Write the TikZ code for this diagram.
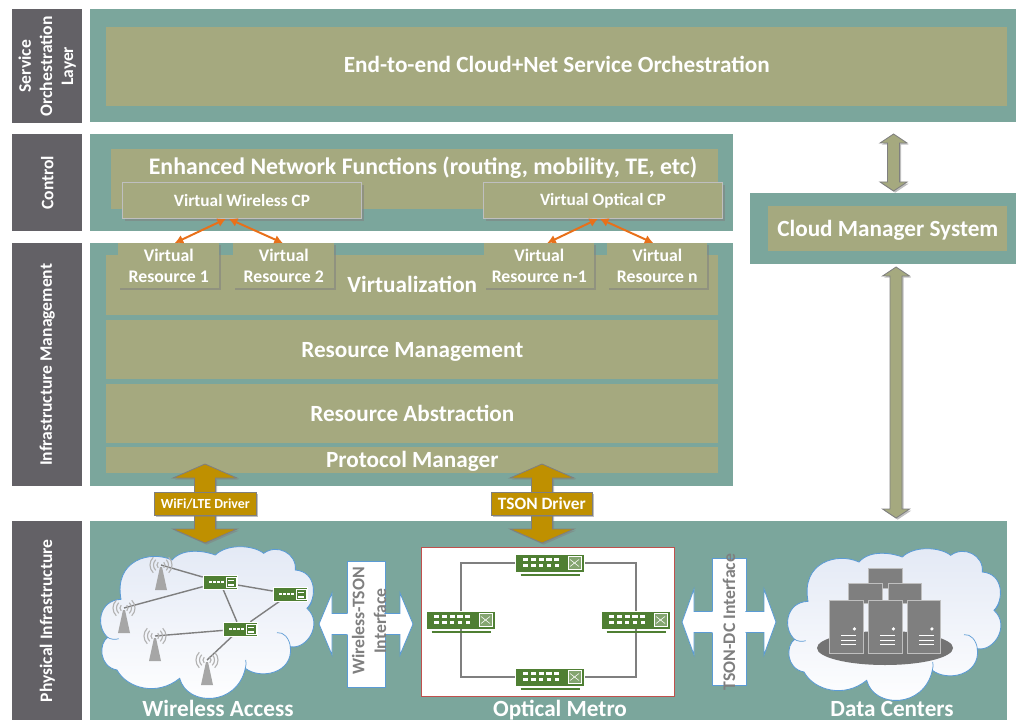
\documentclass[tikz,border=0pt]{standalone}
\usepackage{fontspec}
\setmainfont{Carlito}
\usepackage{tikz}
\usetikzlibrary{shapes.geometric,shadows,calc,arrows.meta,positioning}
\definecolor{tealband}{HTML}{7BA69C}
\definecolor{oliveband}{HTML}{A5A97F}
\definecolor{darkband}{HTML}{636166}
\definecolor{goldarrow}{HTML}{BF9000}
\definecolor{swgreen}{HTML}{4F7F33}
\definecolor{cloudline}{HTML}{5B9BD5}
\definecolor{cloudtop}{HTML}{E3E9F5}
\definecolor{linegray}{HTML}{7F7F7F}
\definecolor{linkorange}{HTML}{E8701A}
\definecolor{metrored}{HTML}{C0504D}
\newcommand{\pxu}{0.025cm}
\tikzset{
  wh/.style 2 args={minimum width=#1*\pxu, minimum height=#2*\pxu},
  band/.style={rectangle,anchor=north west,inner sep=0pt,text=white,font=\bfseries,align=center},
  side/.style={band,fill=darkband},
  sidetxt/.style={rotate=90,text=white,inner sep=0pt,align=center,font=\bfseries\fontsize{12.5}{15}\selectfont},
  outer/.style={band,fill=tealband},
  inner/.style={band,fill=oliveband,text height=10.4pt,text depth=0pt,font=\bfseries\fontsize{16.5}{18}\selectfont},
  vbox/.style={band,fill=oliveband,drop shadow={shadow xshift=1.5pt,shadow yshift=-1.5pt,opacity=.55},
    font=\bfseries\fontsize{12.6}{15.5}\selectfont},
  vcp/.style={vbox,draw=black!25,line width=.6pt,font=\bfseries\fontsize{12.3}{15}\selectfont},
  vlink/.style={{Latex[length=6pt,width=6.5pt]}-{Latex[length=6pt,width=6.5pt]},draw=linkorange,line width=1.4pt},
  goldarr/.style={fill=goldarrow,draw=linegray,line width=.6pt,
    drop shadow={shadow xshift=1.2pt,shadow yshift=-1.2pt,opacity=.5}},
  drvbox/.style={band,fill=goldarrow,draw=linegray,line width=.5pt,
    drop shadow={shadow xshift=1.5pt,shadow yshift=-1.5pt,opacity=.5}},
  olivearr/.style={goldarr,fill=oliveband},
  whitearr/.style={fill=white,draw=cloudline,line width=.6pt},
  ifbox/.style={band,fill=white,draw=cloudline,line width=.6pt},
  iftext/.style={rotate=90,text=linegray,font=\bfseries\fontsize{12.6}{15.5}\selectfont,align=center,inner sep=0pt},
  title/.style={text=white,inner sep=0pt,text height=10.4pt,text depth=0pt,font=\bfseries\fontsize{16.5}{18}\selectfont},
  swbig/.style={rectangle,inner sep=0pt,fill=swgreen,draw=white,line width=.4pt,wh={69}{18}},
  swsmall/.style={rectangle,inner sep=0pt,fill=swgreen,draw=white,line width=.4pt,wh={34}{14}},
  wire/.style={draw=linegray,line width=1pt},
  ringwire/.style={draw=linegray,line width=1pt},
  srv/.style={band,fill=linegray,draw=black!25,line width=.6pt},
  % total length, half head, half shaft, head length, style; drawn upright
  pics/dblarrow/.style n args={5}{code={
    \pgfmathsetmacro{\la}{#1/2}
    \pgfmathsetmacro{\lb}{#1/2-#4}
    \path[#5] (0,-\la) -- (#2,-\lb) -- (#3,-\lb) -- (#3,\lb) -- (#2,\lb) -- (0,\la)
      -- (-#2,\lb) -- (-#3,\lb) -- (-#3,-\lb) -- (-#2,-\lb) -- cycle;
  }},
  pics/cloudpic/.style={code={
    \begin{scope}[scale=.3333,shift={(-353,-342)}]
    \path[draw=cloudline,line width=.6pt,top color=cloudtop,bottom color=white]
      (52,382) .. controls (15,350) and (25,270) .. (92,268)
      .. controls (70,150) and (180,120) .. (245,150)
      .. controls (280,110) and (350,125) .. (375,135)
      .. controls (410,100) and (490,105) .. (520,130)
      .. controls (560,100) and (620,130) .. (615,180)
      .. controls (680,185) and (680,265) .. (650,295)
      .. controls (700,340) and (650,420) .. (600,410)
      .. controls (610,490) and (510,510) .. (465,475)
      .. controls (440,590) and (290,590) .. (268,505)
      .. controls (200,560) and (110,535) .. (80,480)
      .. controls (25,470) and (25,400) .. (52,382) -- cycle;
    \draw[cloudline,line width=.5pt] (560,368) .. controls (580,365) and (597,385) .. (600,410);
    \draw[cloudline,line width=.5pt] (650,295) .. controls (655,290) and (662,285) .. (665,275);
    \draw[cloudline,line width=.5pt] (52,382) .. controls (60,388) and (75,390) .. (85,386);
    \draw[cloudline,line width=.5pt] (465,475) .. controls (468,465) and (468,458) .. (466,450);
    \end{scope}
  }},
  pics/bigdetail/.style={code={
    \foreach \i in {0,...,4} {
      \fill[white] (-24.5+7.8*\i,-4.7) ++(-2.6,0) rectangle ++(5.2,2.4);
      \fill[white] (-24.5+7.8*\i,.8) ++(-2.2,0) rectangle ++(4.4,2.8);
    }
    \draw[white,fill=swgreen!70!white,line width=.5pt] (18,-6.5) rectangle (31,6.5);
    \draw[white,line width=.4pt] (20,-3.5) -- (29,3.5) (20,3.5) -- (29,-3.5);
    \draw[swgreen,line width=1pt] (-29.5,12) -- (29.5,12);
  }},
  pics/smalldetail/.style={code={
    \foreach \i in {0,...,3} \fill[white] (-11+4*\i,-1) rectangle ++(2.6,2);
    \draw[white,line width=.5pt] (6,-5) rectangle (16,5);
    \draw[white,line width=.5pt] (8,-1.5) -- (14,-1.5);
    \fill[white] (8,2) rectangle (14,4);
  }},
  pics/towerpic/.style={code={
    \fill[black!35] (-1,2) -- (1,2) -- (6,25) -- (-6,25) -- cycle;
    \foreach \r in {4,7.5,11} {
      \draw[black!30,line width=.8pt] (.7*\r,-.7*\r) .. controls (1.1*\r,-.35*\r) and (1.1*\r,.35*\r) .. (.7*\r,.7*\r);
      \draw[black!30,line width=.8pt] (-.7*\r,-.7*\r) .. controls (-1.1*\r,-.35*\r) and (-1.1*\r,.35*\r) .. (-.7*\r,.7*\r);
    }
  }},
  pics/srvdetail/.style={code={
    \fill[white] (0,0) circle (1.8);
    \foreach \k in {7,11.5,16} \draw[white,line width=.8pt] (-13,\k) -- (2,\k);
  }}
}
\begin{document}
\begin{tikzpicture}[x=0.025cm,y=-0.025cm]
  \useasboundingbox (0,0) rectangle (1016,720);
  \clip (0,0) rectangle (1016,720);
  % side labels
  \node (sideSvc) [side,wh={70}{114}] at (12,9) {};
  \node (sideCtl) [side,wh={70}{97}] at (12,134) {};
  \node (sideInf) [side,wh={70}{243}] at (12,243) {};
  \node (sidePhy) [side,wh={70}{199}] at (12,521) {};
  \node (txtSvc) [sidetxt] at (sideSvc) {Service\\Orchestration\\Layer};
  \node (txtCtl) [sidetxt] at (sideCtl) {Control};
  \node (txtInf) [sidetxt] at (sideInf) {Infrastructure Management};
  \node (txtPhy) [sidetxt] at (sidePhy) {Physical Infrastructure};
  % layer bands
  \node (bandSvc) [outer,wh={926}{113}] at (90,9) {};
  \node (bandCtl) [outer,wh={643}{97}] at (90,134) {};
  \node (bandInf) [outer,wh={643}{243}] at (90,243) {};
  \node (bandPhy) [outer,wh={917}{199}] at (90,521) {};
  \node (bandCld) [outer,wh={266}{71}] at (750,193) {};
  \node (orch) [inner,wh={901}{79},text depth=2pt] at (106,27) {End-to-end Cloud+Net Service Orchestration};
  \node (cldMgr) [inner,wh={239}{45}] at (768,206) {Cloud Manager System};
  \node (enh) [inner,wh={607}{60}] at (111,149) {};
  \node (enhTxt) [title,font=\bfseries\fontsize{16.9}{18}\selectfont] at (423,167) {Enhanced Network Functions (routing, mobility, TE, etc)};
  \node (virt) [inner,wh={612}{60}] at (106,255) {Virtualization};
  \node (resMgr) [inner,wh={612}{59}] at (106,320) {Resource Management};
  \node (resAbs) [inner,wh={612}{59}] at (106,384) {Resource Abstraction};
  \node (proto) [inner,wh={612}{26}] at (106,447) {Protocol Manager};
  % virtual boxes
  \node (cpW) [vcp,wh={239}{36}] at (122,182) {Virtual Wireless CP};
  \node (cpO) [vcp,wh={239}{36}] at (483,182) {Virtual Optical CP};
  \node (vr1) [vbox,wh={101}{45}] at (118,243) {Virtual\\Resource 1};
  \node (vr2) [vbox,wh={101}{45}] at (233,243) {Virtual\\Resource 2};
  \node (vr3) [vbox,wh={110}{45}] at (484,243) {Virtual\\Resource n-1};
  \node (vr4) [vbox,wh={100}{45}] at (607,243) {Virtual\\Resource n};
  \draw [vlink] ($(cpW.south)+(-16,0)$) -- ($(vr1.north)+(6,0)$);
  \draw [vlink] ($(cpW.south)+(-13,0)$) -- ($(vr2.north)+(-1,0)$);
  \draw [vlink] ($(cpO.south)+(-5,0)$) -- ($(vr3.north)+(8,0)$);
  \draw [vlink] ($(cpO.south)+(-3,0)$) -- ($(vr4.north)+(-4,0)$);
  % physical layer
  \pic at (208,624) {cloudpic};
  \pic at (895,626) {cloudpic};
  \node (metro) [band,fill=white,draw=metrored,line width=.6pt,wh={253}{149}] at (421,547) {};
  % driver and manager arrows
  \pic at (205,503.5) {dblarrow={79}{32}{10.5}{14}{goldarr}};
  \pic at (542,503.5) {dblarrow={79}{32}{10.5}{14}{goldarr}};
  \node (drvW) [drvbox,wh={102}{23},font=\bfseries\fontsize{9.9}{11}\selectfont] at (154,492) {WiFi/LTE Driver};
  \node (drvT) [drvbox,wh={101}{23},font=\bfseries\fontsize{12.3}{14}\selectfont] at (491,492) {TSON Driver};
  \pic at (893.5,162.5) {dblarrow={57}{13.5}{6}{9}{olivearr}};
  \pic at (896,392.5) {dblarrow={251}{13.5}{6}{9}{olivearr}};
  % interfaces
  \node (ifWb) [ifbox,wh={38}{126}] at (347,561) {};
  \pic [rotate=90] at (366,624) {dblarrow={94}{31}{10.5}{13}{whitearr}};
  \fill [white] (346.4,614) rectangle (385.6,634) (347.6,613) rectangle (384.4,635);
  \node (ifWt) [iftext] at (369,621) {Wireless-TSON\\Interface};
  \node (ifDb) [ifbox,wh={34}{127}] at (712,558) {};
  \pic [rotate=90] at (729,622) {dblarrow={94}{33}{10.5}{12}{whitearr}};
  \fill [white] (711.4,612) rectangle (746.6,632) (712.6,611) rectangle (745.4,633);
  \node (ifDt) [iftext] at (729,622) {TSON-DC Interface};
  % optical ring
  \node (swT) [swbig] at (550,563) {};
  \node (swL) [swbig] at (461,620) {};
  \node (swR) [swbig] at (636,620) {};
  \node (swB) [swbig] at (550,677) {};
  \draw [ringwire] (swT.west) -| (swL.north);
  \draw [ringwire] (swL.south) |- (swB.west);
  \draw [ringwire] (swB.east) -| (swR.south);
  \draw [ringwire] (swR.north) |- (swT.east);
  \foreach \n in {swT,swL,swR,swB} \path (\n) pic {bigdetail};
  % wireless network
  \coordinate (tw1) at (161,565);
  \coordinate (tw2) at (124,608);
  \coordinate (tw3) at (155,636);
  \coordinate (tw4) at (207,660);
  \node (swA) [swsmall] at (220,582) {};
  \node (swC) [swsmall] at (290,594) {};
  \node (swD) [swsmall] at (240,629) {};
  \draw [wire] (tw1) -- (swA);
  \draw [wire] (tw2) -- (swA);
  \draw [wire] (swA) -- (swC);
  \draw [wire] (swA) -- (swD);
  \draw [wire] (swC) -- (swD);
  \draw [wire] (tw3) -- (swD);
  \draw [wire] (tw4) -- (swD);
  \foreach \n in {swA,swC,swD} {
    \node [swsmall] at (\n) {};
    \path (\n) pic {smalldetail};
  }
  \foreach \n in {tw1,tw2,tw3,tw4} \path (\n) pic {towerpic};
  % data center
  \node (dcBase) [ellipse,fill=black!55,inner sep=0pt,wh={136}{34}] at (885,648) {};
  \node (srvTop) [srv,wh={34}{20}] at (868,568) {};
  \node (srvB1) [srv,wh={34}{20}] at (848,583) {};
  \node (srvB2) [srv,wh={33}{20}] at (888,583) {};
  \node (srvF1) [srv,wh={34}{53}] at (829,600) {};
  \node (srvF2) [srv,wh={34}{53}] at (868,600) {};
  \node (srvF3) [srv,wh={33}{53}] at (907,600) {};
  \foreach \n in {srvF1,srvF2,srvF3} \path (\n.center) ++(8,2) pic {srvdetail};
  % captions
  \node (capW) [title] at (218,709) {Wireless Access};
  \node (capM) [title] at (560,709) {Optical Metro};
  \node (capD) [title] at (892,709) {Data Centers};
\end{tikzpicture}
\end{document}
